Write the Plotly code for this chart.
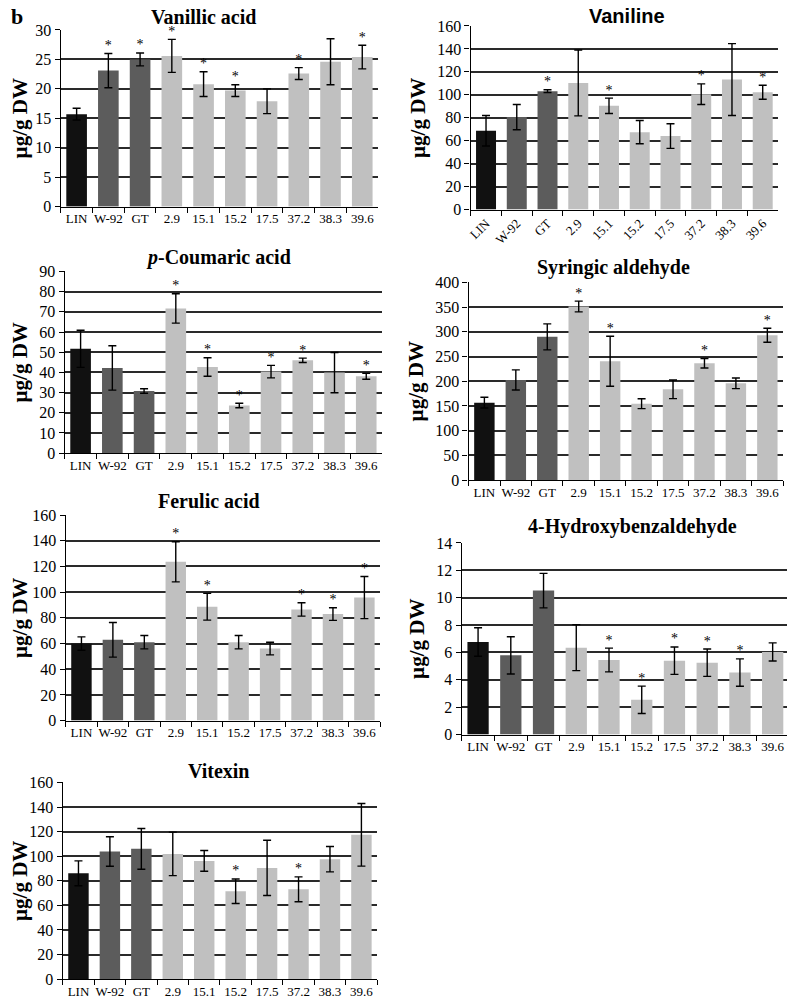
import plotly.graph_objects as go

# Empirical placement: the page shows the figure shifted right by about 8px and
# down by about 16px, with a slight vertical squeeze; box positions below are
# window pixels read from the reference and mapped into figure pixels.
W, H = 787, 1004
X_OFF, Y_OFF, Y_SCALE = 8, 16, 0.985

categories = ["LIN", "W-92", "GT", "2.9", "15.1", "15.2", "17.5", "37.2", "38.3", "39.6"]

vanillic_mean = [15.7, 23.1, 25.0, 25.6, 20.8, 19.7, 17.9, 22.6, 24.6, 25.4]
vanillic_err = [1.0, 2.9, 1.1, 2.8, 2.1, 1.0, 2.1, 1.0, 3.9, 2.0]
vanillic_sig = [0, 1, 1, 1, 1, 1, 0, 1, 0, 1]

vaniline_mean = [68.7, 80.6, 103.2, 110.4, 90.4, 67.5, 64.1, 100.6, 113.3, 102.3]
vaniline_err = [13.3, 11.0, 1.2, 28.7, 6.7, 10.1, 10.7, 9.0, 31.3, 6.1]
vaniline_sig = [0, 0, 1, 0, 1, 0, 0, 1, 0, 1]

coumaric_mean = [51.7, 42.2, 30.8, 71.7, 42.7, 23.6, 40.4, 46.0, 39.9, 38.1]
coumaric_err = [9.2, 11.0, 1.1, 7.3, 4.6, 1.1, 3.1, 1.1, 10.0, 1.5]
coumaric_sig = [0, 0, 0, 1, 1, 1, 1, 1, 0, 1]

syringic_mean = [156.8, 202.7, 289.9, 351.4, 240.5, 154.7, 183.8, 236.5, 196.0, 293.2]
syringic_err = [10.8, 20.3, 26.3, 10.8, 50.7, 10.1, 18.9, 9.5, 10.8, 14.2]
syringic_sig = [0, 0, 0, 1, 1, 0, 0, 1, 0, 1]

ferulic_mean = [60.0, 62.9, 61.0, 123.6, 88.6, 61.0, 56.1, 86.5, 82.9, 95.8]
ferulic_err = [5.2, 13.5, 5.2, 15.6, 10.4, 5.2, 4.9, 5.2, 4.9, 16.4]
ferulic_sig = [0, 0, 0, 1, 1, 0, 0, 1, 1, 1]

hydroxy_mean = [6.76, 5.79, 10.52, 6.35, 5.45, 2.54, 5.40, 5.25, 4.53, 6.04]
hydroxy_err = [1.04, 1.36, 1.26, 1.68, 0.87, 1.0, 1.0, 1.0, 1.0, 0.66]
hydroxy_sig = [0, 0, 0, 0, 1, 1, 1, 1, 1, 0]

vitexin_mean = [86.1, 103.8, 106.0, 101.9, 96.2, 71.5, 90.5, 73.1, 97.6, 117.4]
vitexin_err = [10.1, 12.0, 16.6, 17.7, 8.4, 10.0, 22.5, 10.1, 10.3, 25.5]
vitexin_sig = [0, 0, 0, 0, 0, 1, 0, 1, 0, 0]

titles = ["Vanillic acid", "Vaniline", "<i>p</i>-Coumaric acid", "Syringic aldehyde",
          "Ferulic acid", "4-Hydroxybenzaldehyde", "Vitexin"]
y_max = [30, 160, 90, 400, 160, 14, 160]
y_dtick = [5, 20, 10, 50, 20, 2, 20]

bar_colors = ["#111111", "#5c5c5c", "#5c5c5c"] + ["#c0c0c0"] * 7

# plot-area boxes in window pixels: (left, right, top, bottom), title centre (x, y)
boxes = [
    (57, 376, 30, 207, 200, 17),
    (469, 778, 26, 210, 626, 13),
    (61, 380, 272, 454, 216, 258),
    (467, 783, 283, 481, 613, 268),
    (62, 378, 516, 722, 206, 502),
    (460, 789, 544, 736, 632, 528),
    (59, 375, 784, 981, 216, 772),
]

series = [
    (vanillic_mean, vanillic_err, vanillic_sig),
    (vaniline_mean, vaniline_err, vaniline_sig),
    (coumaric_mean, coumaric_err, coumaric_sig),
    (syringic_mean, syringic_err, syringic_sig),
    (ferulic_mean, ferulic_err, ferulic_sig),
    (hydroxy_mean, hydroxy_err, hydroxy_sig),
    (vitexin_mean, vitexin_err, vitexin_sig),
]

SERIF = "Liberation Serif, Times New Roman, serif"
SANS = "Liberation Sans, Arial, sans-serif"


def px(v):
    return min(1.0, max(0.0, (v - X_OFF) / W))


def py(v):
    return min(1.0, max(0.0, 1 - ((v - Y_OFF) / Y_SCALE) / H))


fig = go.Figure()
annotations = []
layout = dict(
    width=W, height=H, autosize=False,
    margin=dict(l=0, r=0, t=0, b=0),
    paper_bgcolor="white", plot_bgcolor="white",
    showlegend=False, bargap=0.35,
    font=dict(family=SERIF, color="black"),
)

for i, ((mean, err, sig), (l, r, t, b, tx, ty)) in enumerate(zip(series, boxes)):
    n = "" if i == 0 else str(i + 1)
    xa, ya = "x" + n, "y" + n
    fig.add_trace(go.Bar(
        x=categories, y=mean, xaxis=xa, yaxis=ya,
        marker=dict(color=bar_colors, line=dict(width=0)),
        error_y=dict(type="data", array=err, visible=True,
                     color="black", thickness=1.4, width=4),
    ))
    sx = [c for c, s in zip(categories, sig) if s]
    sy = [m + e for m, e, s in zip(mean, err, sig) if s]
    fig.add_trace(go.Scatter(
        x=sx, y=sy, xaxis=xa, yaxis=ya, mode="text", text=["*"] * len(sx),
        textposition="top center", textfont=dict(size=14, family=SERIF, color="black"),
        cliponaxis=False,
    ))
    layout["xaxis" + n] = dict(
        domain=[px(l), px(r)], anchor=ya, type="category",
        categoryorder="array", categoryarray=categories,
        showline=True, linecolor="black", linewidth=1.4,
        ticks="outside", tickson="boundaries", ticklen=5, tickcolor="black",
        tickfont=dict(size=13, family=SERIF, color="black"),
        tickangle=-45 if i == 1 else 0, showgrid=False, fixedrange=True,
        ticklabeloverflow="allow",
    )
    layout["yaxis" + n] = dict(
        domain=[py(b), py(t)], anchor=xa,
        range=[0, y_max[i]], dtick=y_dtick[i], tick0=0,
        showline=True, linecolor="black", linewidth=1.4,
        ticks="outside", ticklen=5, tickcolor="black",
        showgrid=True, gridcolor="#2a2a2a", gridwidth=1.5,
        zeroline=False,
        tickfont=dict(size=16, family=SERIF, color="black"),
        title=dict(text="<b>µg/g DW</b>", font=dict(size=21, family=SERIF, color="black"),
                   standoff=5),
    )
    annotations.append(dict(
        text="<b>" + titles[i] + "</b>", x=px(tx), y=py(ty), xref="paper", yref="paper",
        xanchor="center", yanchor="middle", showarrow=False,
        font=dict(size=20, family=SANS if i == 1 else SERIF, color="black"),
    ))

annotations.append(dict(
    text="<b>b</b>", x=px(13), y=py(17), xref="paper", yref="paper",
    xanchor="center", yanchor="middle", showarrow=False,
    font=dict(size=22, family=SERIF, color="black"),
))
layout["annotations"] = annotations
fig.update_layout(**layout)
fig.write_html("out.html")
